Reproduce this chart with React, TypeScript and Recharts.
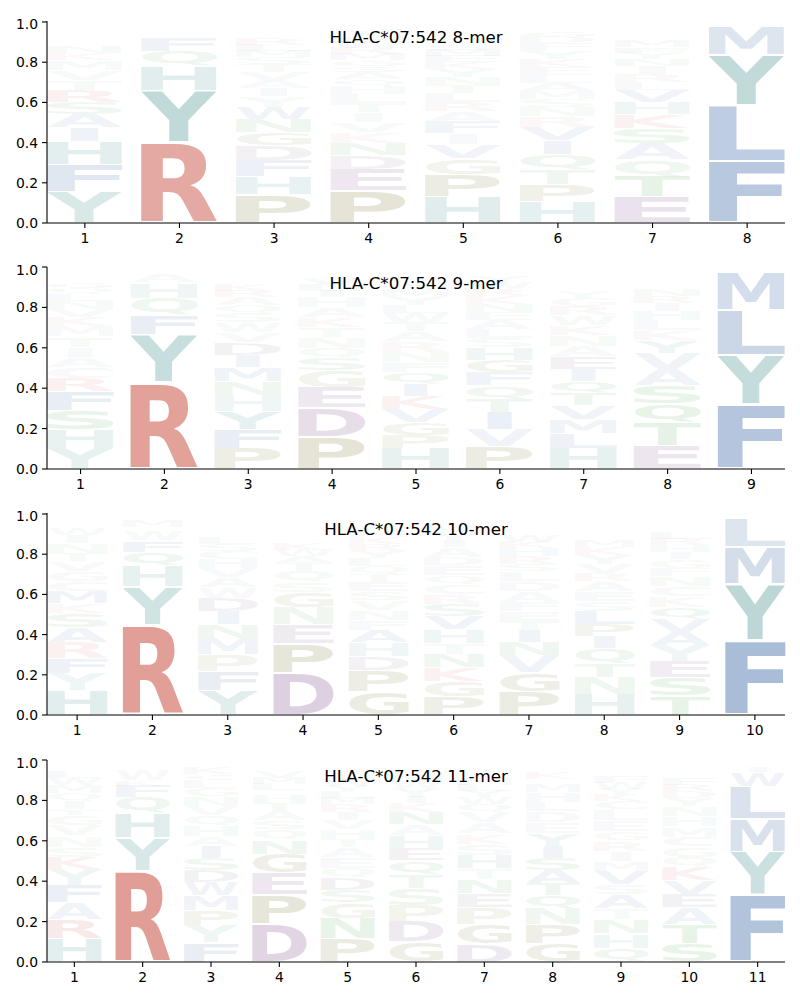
import { BarChart, Bar, XAxis, YAxis } from "recharts";

// letters bottom-to-top for every position, heights
const letters8 = [
  "YFHIASRTVMKNQLEDGWPC",
  "RYHQFANGSTKEL",
  "PHFDGNWYIAVTSMLREQKC",
  "PEDNKVITLHQASGMRWFYC",
  "HPGVIFARLTNYKEMSQWDC",
  "HPTQIVRNSMALEKYFDGWC",
  "ETQASKHVLRINYFMWDGPC",
  "FLYMI",
];
const heights8 = [
  [0.155, 0.135, 0.115, 0.07, 0.065, 0.06, 0.06, 0.05, 0.05, 0.05, 0.035, 0.03, 0.025, 0.02, 0.02, 0.02, 0.015, 0.015, 0.01, 0.005],
  [0.4, 0.26, 0.12, 0.075, 0.07, 0.02, 0.015, 0.01, 0.01, 0.005, 0.005, 0.004, 0.003],
  [0.14, 0.09, 0.08, 0.075, 0.065, 0.065, 0.06, 0.055, 0.04, 0.04, 0.04, 0.04, 0.035, 0.03, 0.03, 0.03, 0.025, 0.02, 0.02, 0.01],
  [0.16, 0.105, 0.07, 0.06, 0.055, 0.05, 0.05, 0.045, 0.045, 0.04, 0.035, 0.035, 0.03, 0.03, 0.03, 0.03, 0.03, 0.03, 0.03, 0.02],
  [0.13, 0.11, 0.08, 0.07, 0.055, 0.06, 0.05, 0.045, 0.045, 0.04, 0.04, 0.04, 0.035, 0.03, 0.03, 0.03, 0.03, 0.025, 0.025, 0.015],
  [0.105, 0.085, 0.075, 0.075, 0.07, 0.065, 0.055, 0.045, 0.04, 0.04, 0.04, 0.04, 0.04, 0.04, 0.04, 0.04, 0.03, 0.03, 0.025, 0.02],
  [0.13, 0.1, 0.085, 0.08, 0.075, 0.07, 0.06, 0.06, 0.04, 0.04, 0.04, 0.035, 0.03, 0.03, 0.03, 0.025, 0.02, 0.02, 0.015, 0.01],
  [0.305, 0.28, 0.25, 0.145, 0.015],
];

const letters9 = [
  "YHSFRCAITMKVNLQGWEDP",
  "RYFQHASTNG",
  "PFYHNMIDVWSQARKLETGC",
  "PDEGSQNTKAHILVMWY",
  "HPGVKIQFNRATWLYMSEDC",
  "PVITQFGHSLAENKRWYDMC",
  "HLMVTQIEANKWRGYSFDPC",
  "ETQSAVYKLHIRNFGMDWPC",
  "FYLMIAT",
];
const heights9 = [
  [0.1, 0.095, 0.095, 0.095, 0.065, 0.055, 0.05, 0.05, 0.05, 0.05, 0.045, 0.04, 0.04, 0.035, 0.03, 0.03, 0.02, 0.02, 0.02, 0.01],
  [0.43, 0.235, 0.095, 0.087, 0.075, 0.04, 0.01, 0.01, 0.01, 0.005],
  [0.1, 0.095, 0.09, 0.08, 0.07, 0.07, 0.06, 0.06, 0.05, 0.05, 0.045, 0.04, 0.04, 0.03, 0.03, 0.025, 0.02, 0.02, 0.015, 0.01],
  [0.16, 0.145, 0.1, 0.085, 0.06, 0.05, 0.05, 0.05, 0.05, 0.05, 0.05, 0.03, 0.03, 0.03, 0.025, 0.02, 0.015],
  [0.1, 0.065, 0.065, 0.065, 0.065, 0.06, 0.06, 0.05, 0.05, 0.05, 0.05, 0.045, 0.045, 0.04, 0.04, 0.035, 0.03, 0.025, 0.02, 0.01],
  [0.11, 0.085, 0.085, 0.065, 0.07, 0.065, 0.06, 0.06, 0.045, 0.045, 0.045, 0.04, 0.04, 0.04, 0.035, 0.03, 0.03, 0.02, 0.02, 0.01],
  [0.1, 0.075, 0.07, 0.07, 0.06, 0.06, 0.06, 0.06, 0.055, 0.05, 0.05, 0.05, 0.045, 0.04, 0.03, 0.025, 0.025, 0.02, 0.015, 0.01],
  [0.115, 0.115, 0.095, 0.09, 0.08, 0.08, 0.06, 0.05, 0.05, 0.045, 0.04, 0.035, 0.03, 0.025, 0.02, 0.02, 0.015, 0.015, 0.01, 0.005],
  [0.32, 0.243, 0.223, 0.19, 0.01, 0.01, 0.004],
];

const letters10 = [
  "HYFRASKMCGVTNIWLQEDP",
  "RYHQFWKMSTA",
  "YFPMNIDWAVHCSLEKQTRG",
  "DPENGSQTAWKYFLIRMVH",
  "GPDHAFNVSETQLYRKMWCI",
  "PGKNTHVSRCQEDAIYMLFW",
  "PGVNITEFADLSRHKWMYQC",
  "HNTQIPLSEARVYKMFWGDC",
  "TSEYAVQKCNFGIHRLMDWP",
  "FYMLSA",
];
const heights10 = [
  [0.12, 0.085, 0.075, 0.08, 0.075, 0.07, 0.05, 0.06, 0.05, 0.05, 0.05, 0.04, 0.05, 0.04, 0.03, 0.025, 0.02, 0.015, 0.01, 0.01],
  [0.447, 0.193, 0.101, 0.07, 0.057, 0.046, 0.02, 0.03, 0.012, 0.012, 0.01],
  [0.12, 0.095, 0.085, 0.08, 0.07, 0.065, 0.065, 0.055, 0.05, 0.045, 0.045, 0.04, 0.035, 0.03, 0.025, 0.025, 0.02, 0.02, 0.015, 0.01],
  [0.21, 0.145, 0.095, 0.085, 0.075, 0.05, 0.055, 0.04, 0.035, 0.03, 0.03, 0.025, 0.025, 0.025, 0.02, 0.015, 0.015, 0.015, 0.01],
  [0.115, 0.105, 0.07, 0.07, 0.06, 0.05, 0.05, 0.05, 0.045, 0.045, 0.04, 0.04, 0.04, 0.035, 0.035, 0.035, 0.03, 0.025, 0.02, 0.02],
  [0.09, 0.075, 0.07, 0.065, 0.055, 0.07, 0.065, 0.06, 0.05, 0.05, 0.045, 0.05, 0.04, 0.05, 0.035, 0.03, 0.03, 0.025, 0.02, 0.015],
  [0.115, 0.095, 0.085, 0.065, 0.06, 0.045, 0.05, 0.045, 0.055, 0.05, 0.05, 0.035, 0.04, 0.04, 0.03, 0.03, 0.025, 0.025, 0.015, 0.015],
  [0.1, 0.085, 0.07, 0.075, 0.06, 0.06, 0.065, 0.05, 0.05, 0.05, 0.04, 0.045, 0.045, 0.04, 0.03, 0.025, 0.025, 0.02, 0.02, 0.01],
  [0.095, 0.09, 0.08, 0.08, 0.065, 0.065, 0.06, 0.055, 0.05, 0.05, 0.04, 0.045, 0.035, 0.035, 0.03, 0.03, 0.025, 0.02, 0.015, 0.01],
  [0.37, 0.28, 0.185, 0.145, 0.01, 0.01],
];

const letters11 = [
  "HRAFYKSNVGTIQMWLEDPC",
  "RYHQFKWASTN",
  "FYPMWDSIAHQVNGLCKRTE",
  "DPEGNQSATHILMVFRY",
  "PNGSDQEATHVIRMLYWKCF",
  "GDPSTQEHANKIYWMFRLCV",
  "DGPENTHSKAVQWYLMFRIC",
  "GPNQTASIYEDLHMRKFWVC",
  "QHNTASVMIRGELCKYWFDP",
  "STAEVKQGCMHNYDRFILWP",
  "FYMLWIATS",
];
const heights11 = [
  [0.115, 0.095, 0.085, 0.085, 0.08, 0.06, 0.05, 0.055, 0.05, 0.05, 0.03, 0.04, 0.04, 0.04, 0.035, 0.03, 0.02, 0.015, 0.01, 0.01],
  [0.452, 0.162, 0.122, 0.079, 0.058, 0.027, 0.055, 0.015, 0.01, 0.01, 0.01],
  [0.095, 0.085, 0.075, 0.075, 0.065, 0.06, 0.06, 0.06, 0.045, 0.055, 0.05, 0.045, 0.05, 0.04, 0.04, 0.03, 0.035, 0.02, 0.01, 0.005],
  [0.19, 0.145, 0.105, 0.095, 0.07, 0.05, 0.045, 0.045, 0.04, 0.04, 0.025, 0.03, 0.03, 0.03, 0.025, 0.015, 0.02],
  [0.115, 0.1, 0.08, 0.06, 0.06, 0.05, 0.055, 0.05, 0.04, 0.045, 0.045, 0.04, 0.04, 0.03, 0.03, 0.03, 0.03, 0.025, 0.02, 0.015],
  [0.1, 0.1, 0.08, 0.085, 0.07, 0.07, 0.06, 0.06, 0.055, 0.06, 0.045, 0.03, 0.045, 0.03, 0.03, 0.025, 0.02, 0.02, 0.01, 0.005],
  [0.09, 0.095, 0.085, 0.07, 0.07, 0.055, 0.065, 0.055, 0.05, 0.055, 0.05, 0.04, 0.035, 0.03, 0.03, 0.03, 0.025, 0.02, 0.02, 0.01],
  [0.09, 0.095, 0.08, 0.065, 0.06, 0.065, 0.06, 0.06, 0.06, 0.055, 0.055, 0.045, 0.05, 0.04, 0.025, 0.03, 0.025, 0.02, 0.01, 0.005],
  [0.07, 0.07, 0.07, 0.055, 0.07, 0.05, 0.065, 0.05, 0.05, 0.05, 0.045, 0.055, 0.055, 0.04, 0.03, 0.03, 0.03, 0.03, 0.015, 0.015],
  [0.09, 0.095, 0.085, 0.065, 0.07, 0.065, 0.05, 0.05, 0.05, 0.05, 0.05, 0.05, 0.04, 0.035, 0.03, 0.03, 0.02, 0.02, 0.015, 0.01],
  [0.33, 0.215, 0.165, 0.162, 0.069, 0.028, 0.01, 0.01, 0.01],
];

const yTicks = [0, 0.2, 0.4, 0.6, 0.8, 1];

const RED = "#bc2816";
const BLUE = "#164b94";
const TEAL = "#0d716d";
const OLIVE = "#5b5400";
const PURPLE = "#5d1f6b";
const GREEN = "#1b8d1b";

const letterColor: Record<string, string> = {
  R: RED, K: RED,
  A: BLUE, F: BLUE, I: BLUE, L: BLUE, M: BLUE, V: BLUE, W: BLUE,
  H: TEAL, Y: TEAL,
  G: OLIVE, P: OLIVE,
  C: PURPLE, D: PURPLE, E: PURPLE,
  N: GREEN, Q: GREEN, S: GREEN, T: GREEN,
};

const LOGO_FONT = "DejaVu Sans";
const TICK_STYLE = { fill: "#000", fontSize: 13.9, fontFamily: LOGO_FONT };

const ctx = document.createElement("canvas").getContext("2d")!;

function glyphBox(letter: string) {
  ctx.font = `bold 100px "${LOGO_FONT}"`;
  const m = ctx.measureText(letter);
  return {
    left: m.actualBoundingBoxLeft,
    right: m.actualBoundingBoxRight,
    ascent: m.actualBoundingBoxAscent,
    descent: m.actualBoundingBoxDescent,
  };
}

// stretches one glyph over its stacked bar segment, faint when the share is small
function LetterShape({ x, y, width, height, letter, value }: any) {
  if (!letter || !value || height <= 0) return null;
  const box = glyphBox(letter);
  const w = letter === "I" ? width * 0.365 : width;
  const h = height * 0.95;
  const sx = w / (box.left + box.right);
  const sy = h / (box.ascent + box.descent);
  const tx = x + (width - w) / 2 + box.left * sx;
  const ty = y + height * 0.025 + box.ascent * sy;
  return (
    <text
      transform={`translate(${tx},${ty}) scale(${sx},${sy})`}
      fontFamily={LOGO_FONT}
      fontWeight="bold"
      fontSize={100}
      fill={letterColor[letter]}
      fillOpacity={value}
    >
      {letter}
    </text>
  );
}

function Logo({ top, title, letters, heights }: { top: number; title: string; letters: string[]; heights: number[][] }) {
  const n = letters.length;
  const positions = letters.map((_, i) => i + 1);
  const layers = Math.max(...heights.map((h) => h.length));
  const layerIds = Array.from({ length: layers }, (_, i) => i);
  const rows = positions.map((pos, p) => {
    const row: Record<string, number> = { pos };
    layerIds.forEach((l) => { row[`h${l}`] = heights[p][l] ?? 0; });
    return row;
  });
  const barSize = (738 / (n - 0.2)) * 0.8;

  return (
    <div style={{ position: "absolute", left: 0, top, width: 800, height: 240 }}>
      <BarChart width={800} height={240} data={rows} margin={{ top: 5, right: 15, bottom: 0, left: 0 }} barSize={barSize}>
        <XAxis
          dataKey="pos"
          type="number"
          domain={[0.6, n + 0.4]}
          ticks={positions}
          interval={0}
          height={33}
          tick={TICK_STYLE}
          tickSize={5}
          tickMargin={5}
          tickLine={{ stroke: "#000", strokeWidth: 1.1 }}
          axisLine={{ stroke: "#000", strokeWidth: 1.1 }}
        />
        <YAxis
          domain={[0, 1]}
          ticks={yTicks}
          width={47}
          tickFormatter={(v) => v.toFixed(1)}
          tick={TICK_STYLE}
          tickSize={5}
          tickMargin={4}
          tickLine={{ stroke: "#000", strokeWidth: 1.1 }}
          axisLine={{ stroke: "#000", strokeWidth: 1.1 }}
        />
        {layerIds.map((l) => (
          <Bar
            key={l}
            dataKey={`h${l}`}
            stackId="logo"
            isAnimationActive={false}
            shape={(props: any) => (
              <LetterShape {...props} letter={letters[props.index][l]} value={heights[props.index][l]} />
            )}
          />
        ))}
        <text x={416} y={21} textAnchor="middle" dominantBaseline="central" fontFamily={LOGO_FONT} fontSize={16.67} fill="#000">
          {title}
        </text>
      </BarChart>
    </div>
  );
}

export default function App() {
  return (
    <div style={{ position: "absolute", left: 0, top: 0, width: 800, height: 1000, background: "#fff" }}>
      <Logo top={16.3} title="HLA-C*07:542 8-mer" letters={letters8} heights={heights8} />
      <Logo top={262.3} title="HLA-C*07:542 9-mer" letters={letters9} heights={heights9} />
      <Logo top={508.3} title="HLA-C*07:542 10-mer" letters={letters10} heights={heights10} />
      <Logo top={755} title="HLA-C*07:542 11-mer" letters={letters11} heights={heights11} />
    </div>
  );
}
